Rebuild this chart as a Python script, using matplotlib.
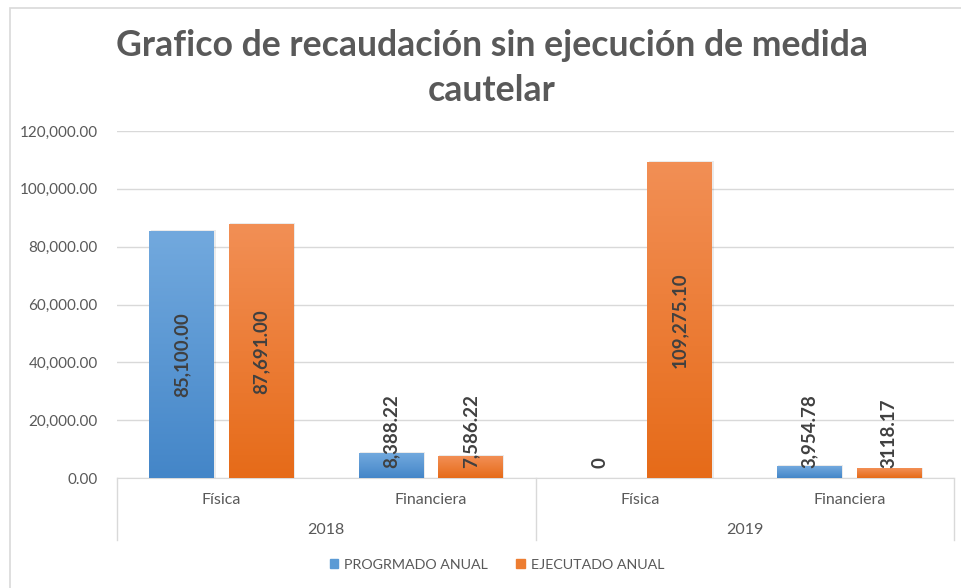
import matplotlib
matplotlib.use("Agg")
import matplotlib.pyplot as plt
from matplotlib.patches import Rectangle
from matplotlib.lines import Line2D
import numpy as np

# datos del grafico
anios = ["2018", "2019"]
categorias = ["Física", "Financiera", "Física", "Financiera"]
programado = [85100.00, 8388.22, 0.0, 3954.78]
ejecutado = [87691.00, 7586.22, 109275.10, 3118.17]
etiq_programado = ["85,100.00", "8,388.22", "0", "3,954.78"]
etiq_ejecutado = ["87,691.00", "7,586.22", "109,275.10", "3118.17"]
yticks = [0, 20000, 40000, 60000, 80000, 100000, 120000]
series = ["PROGRMADO ANUAL", "EJECUTADO ANUAL"]

plt.rcParams['font.family'] = ['Lato', 'DejaVu Sans']
gris = '#595959'

fig = plt.figure(figsize=(9.61, 5.88), dpi=100)
ax = fig.add_axes([117 / 961, 1 - 478 / 588, (954 - 117) / 961, (478 - 131) / 588])

# borde del grafico
fig.patches.append(Rectangle((10 / 961, -0.05), 1.2, 1 - 8 / 588 + 0.05,
                             transform=fig.transFigure, fill=False,
                             edgecolor='#d9d9d9', lw=1.2))

def barra_degradado(ax, x, h, w, c_top, c_bot):
    """Barra con un degradado vertical"""
    if h <= 0:
        return
    grad = np.linspace(0, 1, 100).reshape(-1, 1)
    cmap = matplotlib.colors.LinearSegmentedColormap.from_list('g', [c_bot, c_top])
    ax.imshow(grad, extent=(x - w / 2, x + w / 2, 0, h), origin='lower',
              cmap=cmap, aspect='auto', zorder=3, interpolation='bilinear')
    # sombra ligera
    ax.add_patch(Rectangle((x - w / 2 + 0.006, 0), w, h + 500, color='#000000',
                           alpha=0.08, zorder=2, lw=0))

x = np.arange(len(categorias))
ancho = 0.31
desp = 0.19

for i in range(len(categorias)):
    barra_degradado(ax, x[i] - desp, programado[i], ancho, '#72a9de', '#4486c8')
    barra_degradado(ax, x[i] + desp, ejecutado[i], ancho, '#f28f55', '#e66b19')

# etiquetas de datos
for i in range(len(categorias)):
    for val, txt, dx in [(programado[i], etiq_programado[i], -desp),
                         (ejecutado[i], etiq_ejecutado[i], desp)]:
        if val > 20000:
            ax.text(x[i] + dx, val / 2, txt, rotation=90, ha='center', va='center',
                    fontsize=13.5, fontweight='bold', color='#404040', zorder=5)
        else:
            ax.text(x[i] + dx, 3300, txt, rotation=90, ha='center', va='bottom',
                    fontsize=13.5, fontweight='bold', color='#404040', zorder=5)

ax.set_xlim(-0.5, len(categorias) - 0.5)
ax.set_ylim(0, 120000)
ax.set_yticks(yticks)
ax.set_yticklabels([f"{v:,.2f}" for v in yticks], fontsize=11, color=gris)
ax.yaxis.grid(True, color='#d9d9d9', lw=1)
ax.set_axisbelow(True)
ax.tick_params(axis='y', length=0, pad=14)
ax.set_xticks([])
for s in ['top', 'right', 'left']:
    ax.spines[s].set_visible(False)
ax.spines['bottom'].set_color('#d9d9d9')

# eje de categorias en dos niveles
trans = ax.get_xaxis_transform()
for i, c in enumerate(categorias):
    ax.text(x[i], -22 / 347, c, transform=trans, ha='center', va='center',
            fontsize=11.5, color=gris)
for j, a in enumerate(anios):
    ax.text(x[2 * j] + 0.5, -52 / 347, a, transform=trans, ha='center', va='center',
            fontsize=11.5, color=gris)
for xs in [-0.5, 1.5, 3.5]:
    ax.add_line(Line2D([xs, xs], [0, -62 / 347], transform=trans, color='#d9d9d9',
                       lw=1, clip_on=False))

# titulo
fig.text(492 / 961, 1 - 46 / 588, "Grafico de recaudación sin ejecución de medida",
         ha='center', va='center', fontsize=25.7, fontweight='bold', color=gris)
fig.text(492 / 961, 1 - 90 / 588, "cautelar",
         ha='center', va='center', fontsize=25.7, fontweight='bold', color=gris)

# leyenda
handles = [Rectangle((0, 0), 1, 1, color='#5b9bd5'), Rectangle((0, 0), 1, 1, color='#ed7d31')]
fig.legend(handles, series, loc='center', bbox_to_anchor=(497 / 961, 1 - 565 / 588),
           ncol=2, frameon=False, fontsize=10.3, handlelength=0.6, handleheight=0.6,
           handletextpad=0.4, columnspacing=2.0, labelcolor=gris)

fig.savefig("out.png", dpi=100)
